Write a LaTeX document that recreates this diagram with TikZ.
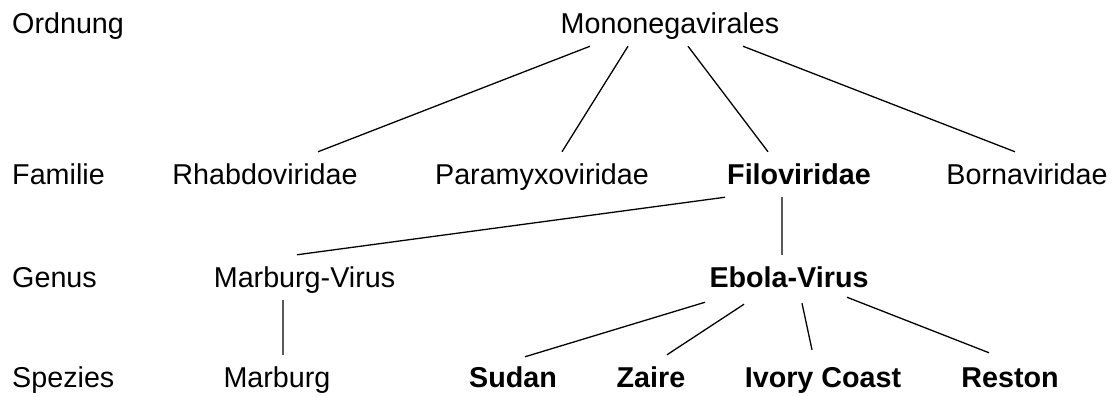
\documentclass[tikz,border=0pt]{standalone}
\usepackage{fontspec}
\setmainfont{Liberation Sans}
\usepackage{tikz}

\begin{document}
\begin{tikzpicture}[
  every node/.style={font=\fontsize{24.5pt}{29pt}\selectfont},
  rank/.style={anchor=base west, inner sep=0pt},
  taxon/.style={anchor=base, inner sep=0pt, text height=0.96cm, text depth=0.39cm},
  key/.style={taxon, font=\fontsize{24.5pt}{29pt}\selectfont\bfseries},
  edge/.style={line width=1.1pt}]
\useasboundingbox (0,0) rectangle (33.42,-11.88);

\node[rank] (R1) at (0.36,-0.99) {Ordnung};

\node[rank] (R2) at (0.36,-5.52) {Familie};

\node[rank] (R3) at (0.36,-8.61) {Genus};

\node[rank] (R4) at (0.36,-11.61) {Spezies};

\node[taxon] (mono) at (20.1,-0.99) {Mononegavirales};

\node[taxon] (rhabdo) at (7.95,-5.52) {Rhabdoviridae};

\node[taxon] (paramyxo) at (16.26,-5.52) {Paramyxoviridae};

\node[key] (filo) at (23.97,-5.52) {Filoviridae};

\node[taxon] (borna) at (30.81,-5.52) {Bornaviridae};

\node[taxon] (marburgv) at (9.135,-8.61) {Marburg-Virus};

\node[key] (ebola) at (23.67,-8.61) {Ebola-Virus};

\node[taxon] (marburg) at (8.31,-11.61) {Marburg};

\node[key] (sudan) at (15.39,-11.61) {Sudan};

\node[key] (zaire) at (19.53,-11.61) {Zaire};

\node[key] (ivory) at (24.69,-11.61) {Ivory Coast};

\node[key] (reston) at (30.3,-11.61) {Reston};

\draw[edge] ([xshift=-2.4cm]mono.south) -- ([xshift=1.59cm]rhabdo.north);
\draw[edge] ([xshift=-1.26cm]mono.south) -- ([xshift=0.6cm]paramyxo.north);
\draw[edge] ([xshift=0.54cm]mono.south) -- ([xshift=-0.93cm]filo.north);
\draw[edge] ([xshift=2.19cm]mono.south) -- ([xshift=-0.36cm]borna.north);

\draw[edge] ([xshift=-2.22cm]filo.south) -- ([xshift=-0.225cm]marburgv.north);
\draw[edge] ([xshift=-0.51cm]filo.south) -- ([xshift=-0.21cm]ebola.north);

\draw[edge] ([xshift=-0.645cm]marburgv.south) -- ([xshift=0.18cm]marburg.north);

\draw[edge] ([xshift=-2.52cm,yshift=-0.06cm]ebola.south) -- ([xshift=0.36cm,yshift=-0.06cm]sudan.north);
\draw[edge] ([xshift=-1.35cm,yshift=-0.12cm]ebola.south) -- ([xshift=0.48cm]zaire.north);
\draw[edge] ([xshift=0.39cm,yshift=-0.09cm]ebola.south) -- ([xshift=-0.33cm,yshift=0.15cm]ivory.north);
\draw[edge] ([xshift=1.74cm,yshift=0.09cm]ebola.south) -- ([xshift=-0.63cm,yshift=0.06cm]reston.north);
\end{tikzpicture}
\end{document}
